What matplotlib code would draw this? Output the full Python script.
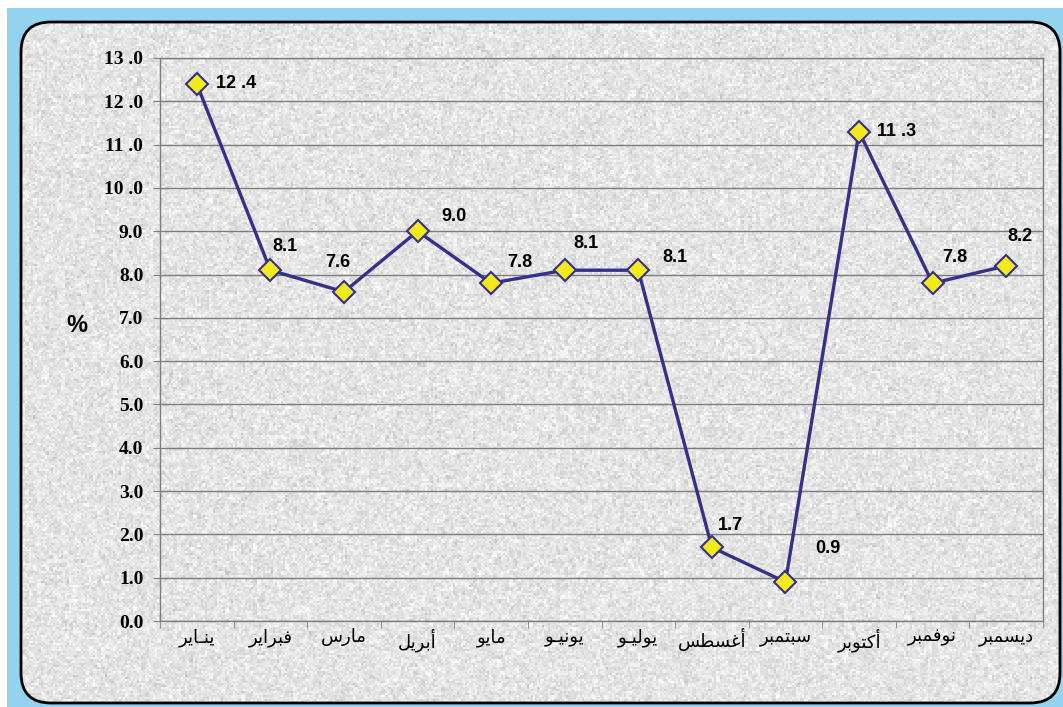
import numpy as np
import matplotlib
matplotlib.use("Agg")
import matplotlib.pyplot as plt
from matplotlib.patches import FancyBboxPatch, Rectangle

# data
months = ["ينـاير", "فبراير", "مارس", "أبريل", "مايو", "يونيـو",
          "يوليـو", "أغسطس", "سبتمبر", "أكتوبر", "نوفمبر", "ديسمبر"]
values = [12.4, 8.1, 7.6, 9.0, 7.8, 8.1, 8.1, 1.7, 0.9, 11.3, 7.8, 8.2]
value_labels = ["12 .4", "8.1", "7.6", "9.0", "7.8", "8.1",
                "8.1", "1.7", "0.9", "11 .3", "7.8", "8.2"]
yticks = [0, 1, 2, 3, 4, 5, 6, 7, 8, 9, 10, 11, 12, 13]
ytick_labels = ["0.0", "1.0", "2.0", "3.0", "4.0", "5.0", "6.0", "7.0",
                "8.0", "9.0", "10 .0", "11 .0", "12 .0", "13 .0"]

# label offsets in pixels (dx, dy up)
offsets = [(39, 0), (15, 24), (-6, 29), (36, 15), (29, 21), (21, 27),
           (37, 13), (19, 22), (42, 34), (38, 0), (22, 26), (14, 29)]

# simple arabic shaping: isolated, final, initial, medial
FORMS = {
    "ا": ("\uFE8D", "\uFE8E", None, None),
    "أ": ("\uFE83", "\uFE84", None, None),
    "ب": ("\uFE8F", "\uFE90", "\uFE91", "\uFE92"),
    "ت": ("\uFE95", "\uFE96", "\uFE97", "\uFE98"),
    "د": ("\uFEA9", "\uFEAA", None, None),
    "ر": ("\uFEAD", "\uFEAE", None, None),
    "س": ("\uFEB1", "\uFEB2", "\uFEB3", "\uFEB4"),
    "ط": ("\uFEC1", "\uFEC2", "\uFEC3", "\uFEC4"),
    "غ": ("\uFECD", "\uFECE", "\uFECF", "\uFED0"),
    "ف": ("\uFED1", "\uFED2", "\uFED3", "\uFED4"),
    "ك": ("\uFED9", "\uFEDA", "\uFEDB", "\uFEDC"),
    "ل": ("\uFEDD", "\uFEDE", "\uFEDF", "\uFEE0"),
    "م": ("\uFEE1", "\uFEE2", "\uFEE3", "\uFEE4"),
    "ن": ("\uFEE5", "\uFEE6", "\uFEE7", "\uFEE8"),
    "و": ("\uFEED", "\uFEEE", None, None),
    "ي": ("\uFEF1", "\uFEF2", "\uFEF3", "\uFEF4"),
}
TATWEEL = "\u0640"


def dual(c):
    return c == TATWEEL or (c in FORMS and FORMS[c][2] is not None)


def shape(word):
    out = []
    n = len(word)
    for i, c in enumerate(word):
        if c not in FORMS:
            out.append(c)
            continue
        prev = i > 0 and dual(word[i - 1])
        nxt = dual(c) and i + 1 < n and (word[i + 1] in FORMS or word[i + 1] == TATWEEL)
        iso, fin, ini, med = FORMS[c]
        if prev and nxt:
            out.append(med)
        elif prev:
            out.append(fin)
        elif nxt:
            out.append(ini)
        else:
            out.append(iso)
    return "".join(out)[::-1]


W, H = 1063, 707
fig = plt.figure(figsize=(W / 100, H / 100), dpi=100)
fig.patch.set_facecolor("white")

# background frame in pixel coordinates
bg = fig.add_axes([0, 0, 1, 1], zorder=0)
bg.set_xlim(0, W)
bg.set_ylim(H, 0)
bg.axis("off")
bg.add_patch(Rectangle((7, 8), W - 7, H - 8, facecolor="#93d3f0", edgecolor="none"))
frame = FancyBboxPatch((21, 22), 1039, 681, boxstyle="round,pad=0,rounding_size=30",
                       facecolor="none", edgecolor="black", lw=2, zorder=3)
bg.add_patch(frame)
# granite-like texture
rng = np.random.default_rng(3)
coarse = rng.normal(0, 1, (170, 260)).repeat(4, axis=0).repeat(4, axis=1)
fine = rng.normal(0, 1, (340, 520)).repeat(2, axis=0).repeat(2, axis=1)
tex = 0.895 + 0.022 * coarse + 0.033 * fine
tex = np.clip(tex, 0.76, 0.99)
img = bg.imshow(tex, cmap="gray", vmin=0, vmax=1, extent=(21, 1060, 703, 22),
                interpolation="nearest", aspect="auto", zorder=1)
img.set_clip_path(frame)
bg.text(77, 325, "%", fontsize=17, fontweight="bold", family="Liberation Sans",
        ha="center", va="center")

# main plot
ax = fig.add_axes([160 / W, (H - 621) / H, (1043 - 160) / W, (621 - 58) / H], zorder=1)
ax.patch.set_visible(False)
x = np.arange(len(values))
ax.plot(x, values, color="#353088", lw=2.4, marker="D", markersize=11,
        markerfacecolor="#f2ea1c", markeredgecolor="#353088", markeredgewidth=1.5,
        zorder=3, clip_on=False)

for xi, v, lab, (dx, dy) in zip(x, values, value_labels, offsets):
    ax.annotate(lab, (xi, v), xytext=(dx, dy), textcoords="offset pixels",
                ha="center", va="center", fontsize=13, fontweight="bold",
                family="Liberation Sans")

ax.set_xlim(-0.5, len(values) - 0.5)
ax.set_ylim(0, 13)
ax.set_yticks(yticks)
ax.set_yticklabels(ytick_labels, family="Liberation Serif", fontweight="bold", fontsize=14)
ax.set_xticks(x)
ax.set_xticklabels([shape(m) for m in months], family="DejaVu Sans", fontsize=13)
ax.set_xticks(np.arange(-0.5, len(values)), minor=True)
ax.tick_params(axis="x", which="major", length=0, pad=5)
ax.tick_params(axis="x", which="minor", length=5, color="#808080")
ax.tick_params(axis="y", length=5, color="#808080", pad=7)
ax.grid(axis="y", color="#7d7d7d", lw=1)
ax.set_axisbelow(True)
for s in ax.spines.values():
    s.set_color("#7d7d7d")
    s.set_linewidth(1)

fig.savefig("out.png", dpi=100)
